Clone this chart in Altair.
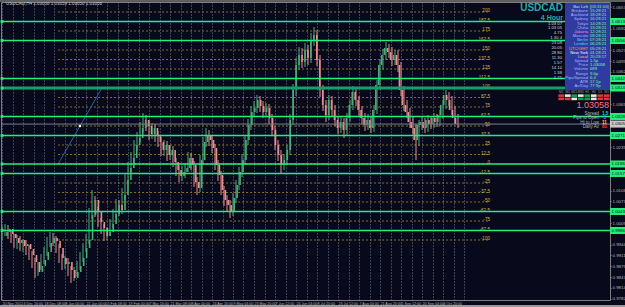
import json
import altair as alt
import pandas as pd

# ---------------- data ----------------
symbol = "USDCAD"
timeframe_label = "4 Hour"
header_text = "USDCAD,H4  1.03058 1.03059 1.03050 1.03058"
bid_price = 1.03058
first_open = 0.9970

closes = [0.9982, 0.9991, 0.9976, 0.9964, 0.9949, 0.9958, 0.9940, 0.9946, 0.9931, 0.9913,
          0.9892, 0.9862, 0.9880, 0.9898, 0.9922, 0.9949, 0.9964, 0.9955, 0.9934, 0.9904,
          0.9886, 0.9892, 0.9868, 0.9844, 0.9862, 0.9880, 0.9904, 0.9934, 0.9958, 1.0033,
          1.0078, 1.0042, 1.0012, 0.9994, 0.9970, 0.9982, 1.0006, 1.0036, 1.0063, 1.0048,
          1.0093, 1.0138, 1.0174, 1.0204, 1.0243, 1.0264, 1.0294, 1.0318, 1.0300, 1.0276,
          1.0294, 1.0270, 1.0252, 1.0228, 1.0243, 1.0213, 1.0228, 1.0192, 1.0168, 1.0150,
          1.0162, 1.0174, 1.0204, 1.0183, 1.0132, 1.0114, 1.0198, 1.0252, 1.0273, 1.0258,
          1.0234, 1.0183, 1.0153, 1.0108, 1.0078, 1.0063, 1.0042, 1.0084, 1.0123, 1.0162,
          1.0198, 1.0258, 1.0303, 1.0342, 1.0354, 1.0378, 1.0360, 1.0342, 1.0354, 1.0324,
          1.0288, 1.0243, 1.0213, 1.0183, 1.0198, 1.0228, 1.0318, 1.0408, 1.0483, 1.0513,
          1.0492, 1.0528, 1.0504, 1.0558, 1.0573, 1.0498, 1.0408, 1.0363, 1.0333, 1.0378,
          1.0348, 1.0318, 1.0294, 1.0312, 1.0288, 1.0324, 1.0363, 1.0402, 1.0378, 1.0348,
          1.0324, 1.0303, 1.0318, 1.0294, 1.0348, 1.0423, 1.0483, 1.0513, 1.0534, 1.0522,
          1.0498, 1.0513, 1.0483, 1.0408, 1.0363, 1.0342, 1.0312, 1.0294, 1.0258, 1.0303,
          1.0312, 1.0294, 1.0318, 1.0306, 1.0324, 1.0312, 1.0333, 1.0363, 1.0393, 1.0378,
          1.0348, 1.0324, 1.03058]

highs = [1.0000, 1.0006, 1.0003, 0.9988, 0.9976, 0.9973, 0.9970, 0.9961, 0.9958, 0.9943,
         0.9925, 0.9904, 0.9892, 0.9916, 0.9937, 0.9967, 0.9982, 0.9979, 0.9970, 0.9946,
         0.9916, 0.9910, 0.9904, 0.9880, 0.9877, 0.9895, 0.9922, 0.9949, 0.9976, 1.0054,
         1.0108, 1.0090, 1.0057, 1.0024, 1.0006, 0.9997, 1.0021, 1.0051, 1.0081, 1.0078,
         1.0114, 1.0156, 1.0192, 1.0222, 1.0258, 1.0282, 1.0312, 1.0339, 1.0333, 1.0315,
         1.0309, 1.0306, 1.0285, 1.0267, 1.0258, 1.0255, 1.0243, 1.0240, 1.0204, 1.0183,
         1.0180, 1.0189, 1.0222, 1.0219, 1.0195, 1.0147, 1.0213, 1.0267, 1.0294, 1.0288,
         1.0273, 1.0246, 1.0198, 1.0165, 1.0120, 1.0093, 1.0078, 1.0099, 1.0138, 1.0177,
         1.0216, 1.0273, 1.0321, 1.0360, 1.0375, 1.0393, 1.0390, 1.0375, 1.0369, 1.0366,
         1.0336, 1.0300, 1.0258, 1.0228, 1.0216, 1.0243, 1.0336, 1.0426, 1.0504, 1.0537,
         1.0534, 1.0549, 1.0543, 1.0579, 1.0597, 1.0588, 1.0513, 1.0423, 1.0378, 1.0393,
         1.0390, 1.0363, 1.0330, 1.0327, 1.0324, 1.0339, 1.0378, 1.0420, 1.0414, 1.0390,
         1.0360, 1.0339, 1.0336, 1.0330, 1.0363, 1.0438, 1.0498, 1.0531, 1.0552, 1.0546,
         1.0537, 1.0528, 1.0528, 1.0492, 1.0420, 1.0378, 1.0354, 1.0327, 1.0306, 1.0318,
         1.0327, 1.0324, 1.0333, 1.0330, 1.0339, 1.0336, 1.0348, 1.0378, 1.0408, 1.0402,
         1.0390, 1.0360, 1.0336]

lows = [0.9958, 0.9970, 0.9961, 0.9949, 0.9934, 0.9931, 0.9925, 0.9922, 0.9913, 0.9898,
        0.9874, 0.9844, 0.9850, 0.9868, 0.9886, 0.9910, 0.9937, 0.9940, 0.9919, 0.9889,
        0.9868, 0.9871, 0.9850, 0.9829, 0.9835, 0.9850, 0.9868, 0.9892, 0.9922, 0.9946,
        1.0021, 1.0027, 0.9997, 0.9976, 0.9955, 0.9958, 0.9970, 0.9994, 1.0024, 1.0030,
        1.0036, 1.0078, 1.0123, 1.0162, 1.0189, 1.0228, 1.0252, 1.0282, 1.0285, 1.0258,
        1.0261, 1.0252, 1.0237, 1.0210, 1.0210, 1.0195, 1.0198, 1.0177, 1.0150, 1.0132,
        1.0135, 1.0144, 1.0162, 1.0168, 1.0117, 1.0093, 1.0102, 1.0183, 1.0237, 1.0240,
        1.0219, 1.0168, 1.0135, 1.0093, 1.0060, 1.0045, 1.0024, 1.0030, 1.0069, 1.0108,
        1.0147, 1.0183, 1.0243, 1.0288, 1.0327, 1.0339, 1.0342, 1.0324, 1.0327, 1.0306,
        1.0270, 1.0228, 1.0195, 1.0159, 1.0168, 1.0183, 1.0213, 1.0303, 1.0390, 1.0468,
        1.0474, 1.0477, 1.0483, 1.0489, 1.0540, 1.0480, 1.0387, 1.0345, 1.0312, 1.0318,
        1.0330, 1.0300, 1.0276, 1.0279, 1.0264, 1.0270, 1.0312, 1.0348, 1.0360, 1.0330,
        1.0306, 1.0285, 1.0288, 1.0279, 1.0282, 1.0336, 1.0408, 1.0468, 1.0498, 1.0504,
        1.0480, 1.0483, 1.0462, 1.0390, 1.0345, 1.0324, 1.0294, 1.0276, 1.0198, 1.0240,
        1.0288, 1.0279, 1.0282, 1.0291, 1.0294, 1.0297, 1.0300, 1.0321, 1.0351, 1.0360,
        1.0333, 1.0309, 1.0294]

date_labels = ["20 Nov 2012", "4 Dec 16:00", "18 Dec 08:00", "8 Jan 00:00", "22 Jan 00:00",
               "5 Feb 08:00", "19 Feb 00:00", "7 Mar 16:00", "21 Mar 08:00", "8 Apr 00:00",
               "24 Apr 16:00", "9 May 04:00", "23 May 20:00", "7 Jun 12:00", "24 Jun 04:00",
               "8 Jul 20:00", "23 Jul 12:00", "7 Aug 04:00", "21 Aug 20:00", "5 Sep 12:00",
               "20 Sep 04:00", "4 Oct 20:00"]
bars_per_label = 7

fib_levels = [1.06420, 1.06135, 1.05850, 1.05565, 1.05280, 1.04995, 1.04710, 1.04425, 1.04140,
              1.03855, 1.03570, 1.03285, 1.03000, 1.02715, 1.02430, 1.02145, 1.01860, 1.01575,
              1.01290, 1.01005, 1.00720, 1.00435, 1.00150, 0.99865, 0.99580]
fib_labels = ["200", "187.5", "175", "162.5", "150", "137.5", "125", "112.5", "100",
              "87.5", "75", "62.5", "50", "37.5", "25", "12.5", "0", "-12.5",
              "-25", "-37.5", "-50", "-62.5", "-75", "-87.5", "-100"]
fib_start_bar = 18.7
fib_end_bar = 162.0

green_levels = [1.06135, 1.05565, 1.04425, 1.03285, 1.02715, 1.01860, 1.01575, 1.00435, 0.99865]
major_level = [1.04140]

trend_bars = [18.7, 33.3]
trend_prices = [1.0186, 1.0414]

# price-scale labels not hidden under the level boxes
price_ticks = [1.06570, 1.05922, 1.05274, 1.04950, 1.04626,
               1.03654, 1.02358, 1.01062, 1.00738,
               1.00090, 0.99442, 0.99118,
               0.98794, 0.98470, 0.98146, 0.97822]

panel_labels = ["Bar Left", "Brisbane", "Auckland", "Sydney", "Tokyo", "China", "Jakarta",
                "Moscow", "Berlin", "London", "UTC/GMT", "New York", "Local", "Spread",
                "Price", "Volume", "Range", "Pips/Spread", "ATR", "Av/Day"]
panel_values = ["[03:31:00]", "15:28:21", "18:28:21", "16:28:21", "14:28:21", "13:28:21",
                "12:28:21", "09:28:21", "07:28:21", "06:28:21", "05:28:21", "01:28:21",
                "20:28:17", "1.5p", "1.03058", "689", "9.6p", "6.4", "17.1p", "77.9p"]
side_values = ["1.03 07", "1.03 05", "4.75", "1.30 4", "23.08", "20.05", "28 80",
               "11.30", "1.57", "14.10", "1.38", "1.71"]
stats_labels = ["Spread", "Pips to Open", "Hi to Low", "Daily Av"]
stats_values = ["1.5", "-3", "11", "81"]
timeframes = ["M1", "M5", "M15", "M30", "H1", "H4", "D1", "W1"]
signals_row1 = ["down", "neutral", "up", "neutral", "up", "neutral", "down", "down"]
signals_row2 = ["down", "down", "neutral", "up", "up", "neutral", "down", "down"]

# ---------------- tables ----------------
n = len(closes)
opens = [first_open] + closes[:-1]
bars = pd.DataFrame({"bar": list(range(n)), "open": opens, "close": closes,
                     "high": highs, "low": lows})
bars["dir"] = ["up" if c >= o else "down" for o, c in zip(opens, closes)]

fib = pd.DataFrame({"level": fib_levels, "label": fib_labels,
                    "start": fib_start_bar, "end": fib_end_bar})
green = pd.DataFrame({"level": green_levels, "bar": 0})
major = pd.DataFrame({"level": major_level, "bar": 0})
levels_all = pd.concat([green, major])
bid = pd.DataFrame({"level": [bid_price]})
trend = pd.DataFrame({"bar": trend_bars, "price": trend_prices})
trend_mid = pd.DataFrame({"bar": [sum(trend_bars) / 2], "price": [sum(trend_prices) / 2]})
panel = pd.DataFrame({"row": list(range(len(panel_labels))), "label": panel_labels,
                      "value": panel_values})
side = pd.DataFrame({"row": list(range(len(side_values))), "value": side_values})
stats = pd.DataFrame({"row": list(range(len(stats_labels))), "label": stats_labels,
                      "value": stats_values})
cells = pd.DataFrame({"col": timeframes * 2, "row": [0] * 8 + [1] * 8,
                      "signal": signals_row1 + signals_row2})
tf = pd.DataFrame({"col": timeframes})
one = pd.DataFrame({"symbol": [symbol], "tf": [timeframe_label], "header": [header_text],
                    "bid": [f"{bid_price:.5f}"]})

# ---------------- scales ----------------
X_DOMAIN = [-1 / 3, 608 / 3]
Y_DOMAIN = [0.9778, 1.0672]
FONT = "Liberation Sans"


def xs():
    return alt.Scale(domain=X_DOMAIN, nice=False, zero=False)


def ys():
    return alt.Scale(domain=Y_DOMAIN, nice=False, zero=False)


grid_values = [3.5 * k for k in range(45)]
label_expr = (f"(datum.value % {bars_per_label} == 0 && datum.value / {bars_per_label} < {len(date_labels)})"
              f" ? {json.dumps(date_labels)}[datum.value / {bars_per_label}] : ''")

x_axis = alt.Axis(orient="bottom", values=grid_values, grid=True, gridColor="#7c86a0",
                  gridDash=[1, 2], gridWidth=1, gridOpacity=0.9, ticks=False, tickSize=0,
                  domain=False, labelExpr=label_expr, labelAlign="left", labelBaseline="top",
                  labelPadding=1, labelFontSize=3.6, labelColor="#b4b4b4", labelFont=FONT,
                  labelOverlap=False, labelFlush=False, title=None)
y_axis = alt.Axis(orient="right", values=price_ticks, format=".5f", labelFontSize=4.4,
                  labelColor="#b4b4b4", labelFont=FONT, tickColor="#8a8a8a", tickSize=1,
                  labelPadding=1, domain=False, grid=False, title=None,
                  labelOverlap=False, labelFlush=False)

# ---------------- price layers ----------------
fib_lines = alt.Chart(fib).mark_rule(strokeDash=[2, 2], color="#86732a", strokeWidth=1).encode(
    x=alt.X("start:Q", scale=xs(), axis=x_axis), x2="end:Q",
    y=alt.Y("level:Q", scale=ys(), axis=y_axis))
fib_text = alt.Chart(fib).mark_text(align="right", baseline="bottom", dx=2, dy=1,
                                    fontSize=4.6, font=FONT, color="#cdb24a").encode(
    x=alt.X("end:Q", scale=xs(), axis=None),
    y=alt.Y("level:Q", scale=ys(), axis=None), text="label:N")

color_dir = alt.Color("dir:N", scale=alt.Scale(domain=["up", "down"],
                                                range=["#4aae78", "#e88f8f"]), legend=None)
wicks = alt.Chart(bars).mark_rule(strokeWidth=1).encode(
    x=alt.X("bar:Q", scale=xs(), axis=None),
    y=alt.Y("low:Q", scale=ys(), axis=None), y2="high:Q", color=color_dir)
bodies = alt.Chart(bars).mark_bar(size=1.6).encode(
    x=alt.X("bar:Q", scale=xs(), axis=None),
    y=alt.Y("open:Q", scale=ys(), axis=None), y2="close:Q", color=color_dir)

trend_line = alt.Chart(trend).mark_line(color="#2a5db0", strokeWidth=1).encode(
    x=alt.X("bar:Q", scale=xs(), axis=None), y=alt.Y("price:Q", scale=ys(), axis=None))
trend_pt = alt.Chart(trend_mid).mark_square(size=5, color="#ffffff", opacity=1).encode(
    x=alt.X("bar:Q", scale=xs(), axis=None), y=alt.Y("price:Q", scale=ys(), axis=None))

bid_line = alt.Chart(bid).mark_rule(color="#7a8294", strokeWidth=1).encode(
    y=alt.Y("level:Q", scale=ys(), axis=None))
green_lines = alt.Chart(green).mark_rule(color="#22ef7b", strokeWidth=1.5).encode(
    y=alt.Y("level:Q", scale=ys(), axis=None))
major_line = alt.Chart(major).mark_rule(color="#159e6a", strokeWidth=3).encode(
    y=alt.Y("level:Q", scale=ys(), axis=None))
green_marks = alt.Chart(levels_all).mark_square(
    size=8, color="#22ef7b", opacity=1).encode(
    x=alt.X("bar:Q", scale=xs(), axis=None), y=alt.Y("level:Q", scale=ys(), axis=None))

box_shape = "M-1,-0.44H1V0.44H-1Z"
green_boxes = alt.Chart(levels_all).mark_point(
    shape=box_shape, size=256, filled=True, color="#22ef7b", opacity=1, strokeWidth=0).encode(
    x=alt.value(617), y=alt.Y("level:Q", scale=ys(), axis=None))
green_box_text = alt.Chart(levels_all).mark_text(
    align="left", baseline="middle", fontSize=4.4, font=FONT, color="#06200f").encode(
    x=alt.value(610.5), y=alt.Y("level:Q", scale=ys(), axis=None),
    text=alt.Text("level:Q", format=".5f"))
bid_box = alt.Chart(bid).mark_point(
    shape=box_shape, size=256, filled=True, color="#c8c8c8", opacity=1, strokeWidth=0).encode(
    x=alt.value(617), y=alt.Y("level:Q", scale=ys(), axis=None))
bid_box_text = alt.Chart(bid).mark_text(
    align="left", baseline="middle", fontSize=4.4, font=FONT, color="#111111").encode(
    x=alt.value(610.5), y=alt.Y("level:Q", scale=ys(), axis=None),
    text=alt.Text("level:Q", format=".5f"))

# ---------------- info panel ----------------
label_colors = ["#9cffb0", "#a9b6ff", "#a9b6ff", "#a9b6ff", "#a9b6ff", "#a9b6ff", "#ff80e0",
                "#a9b6ff", "#49d5ff", "#49d5ff", "#ff9b2e", "#ffffff", "#ffcf6a", "#a9b6ff",
                "#a9b6ff", "#a9b6ff", "#a9b6ff", "#a9b6ff", "#a9b6ff", "#a9b6ff"]
row_scale = alt.Scale(domain=[0, len(panel_labels) - 1], range=[5, 84])

panel_bg = alt.Chart(one).mark_rect(color="#2f3b9e").encode(
    x=alt.value(564), x2=alt.value(609), y=alt.value(1), y2=alt.value(88))
panel_lab = alt.Chart(panel).mark_text(align="right", baseline="middle", fontSize=4.2,
                                       font=FONT).encode(
    x=alt.value(587), y=alt.Y("row:Q", scale=row_scale, axis=None), text="label:N",
    color=alt.Color("label:N", scale=alt.Scale(domain=panel_labels, range=label_colors),
                    legend=None))
panel_val = alt.Chart(panel).mark_text(align="left", baseline="middle", fontSize=4.2,
                                       font=FONT, color="#7cf29a").encode(
    x=alt.value(589), y=alt.Y("row:Q", scale=row_scale, axis=None), text="value:N")
side_txt = alt.Chart(side).mark_text(align="right", baseline="middle", fontSize=4.2,
                                     font=FONT, color="#d8d8d8").encode(
    x=alt.value(561),
    y=alt.Y("row:Q", scale=alt.Scale(domain=[0, len(side_values) - 1], range=[21.5, 76]),
            axis=None), text="value:N")

sym_txt = alt.Chart(one).mark_text(align="right", baseline="middle", fontSize=10,
                                   fontWeight="bold", font=FONT, color="#2aa9a9").encode(
    x=alt.value(562), y=alt.value(6), text="symbol:N")
tf_txt = alt.Chart(one).mark_text(align="right", baseline="middle", fontSize=7,
                                  fontWeight="bold", font=FONT, color="#2aa9a9").encode(
    x=alt.value(562), y=alt.value(15.5), text="tf:N")
head_txt = alt.Chart(one).mark_text(align="left", baseline="middle", fontSize=4.5,
                                    font=FONT, color="#c8c8c8").encode(
    x=alt.value(5), y=alt.value(2), text="header:N")
big_bid = alt.Chart(one).mark_text(align="right", baseline="middle", fontSize=9,
                                   font=FONT, color="#ff6d8e").encode(
    x=alt.value(608), y=alt.value(102.5), text="bid:N")

stats_scale = alt.Scale(domain=[0, len(stats_labels) - 1], range=[111.5, 125])
stats_lab = alt.Chart(stats).mark_text(align="right", baseline="middle", fontSize=4.5,
                                       font=FONT, color="#b8b8b8").encode(
    x=alt.value(598), y=alt.Y("row:Q", scale=stats_scale, axis=None), text="label:N")
stats_val = alt.Chart(stats).mark_text(align="left", baseline="middle", fontSize=4.5,
                                       font=FONT, fontWeight="bold").encode(
    x=alt.value(601), y=alt.Y("row:Q", scale=stats_scale, axis=None), text="value:N",
    color=alt.Color("label:N", scale=alt.Scale(domain=stats_labels,
                                               range=["#19d6d6", "#c44dff", "#ffd23a", "#ff4545"]),
                    legend=None))

col_scale = alt.Scale(domain=timeframes, range=[557, 609], paddingInner=0.12)
cell_rect = alt.Chart(cells).mark_rect().encode(
    x=alt.X("col:N", scale=col_scale, axis=None, sort=timeframes),
    y=alt.Y("row:O", scale=alt.Scale(domain=[0, 1], range=[92, 98.5], paddingInner=0.2),
            axis=None),
    color=alt.Color("signal:N", scale=alt.Scale(domain=["up", "down", "neutral"],
                                                range=["#1f9a4a", "#d83a3a", "#e6e6e6"]),
                    legend=None))
tf_txt_row = alt.Chart(tf).mark_text(align="center", baseline="middle", fontSize=3.2,
                                     font=FONT, color="#9a9a9a").encode(
    x=alt.X("col:N", scale=col_scale, axis=None, sort=timeframes), y=alt.value(89.8),
    text="col:N")

top_strip = alt.Chart(one).mark_rect(color="#5e5e5e").encode(
    x=alt.value(-1), x2=alt.value(624), y=alt.value(-2), y2=alt.value(0))
bottom_strip = alt.Chart(one).mark_rect(color="#9a9a9a").encode(
    x=alt.value(-1), x2=alt.value(624), y=alt.value(303), y2=alt.value(305))

chart = alt.layer(
    fib_lines, fib_text, wicks, bodies, trend_line, trend_pt,
    bid_line, green_lines, major_line, green_marks,
    green_boxes, green_box_text, bid_box, bid_box_text,
    panel_bg, panel_lab, panel_val, side_txt, sym_txt, tf_txt, head_txt, big_bid,
    stats_lab, stats_val, cell_rect, tf_txt_row, top_strip, bottom_strip,
).resolve_scale(
    x="independent", y="independent", color="independent"
).properties(
    width=609, height=298,
    padding={"left": 1, "top": 2, "right": 15, "bottom": 7},
    autosize=alt.AutoSizeParams(type="none"),
    background="#09091c",
).configure_view(
    stroke="#7e7e7e", strokeWidth=1, fill="#09091c"
)

chart.save("out.html", embed_options={"renderer": "svg", "actions": False})
